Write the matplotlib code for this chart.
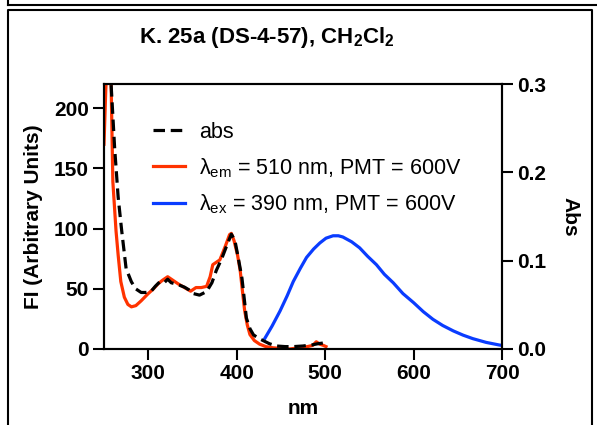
import matplotlib
matplotlib.use("Agg")
import matplotlib.pyplot as plt
from matplotlib.lines import Line2D

plt.rcParams["font.family"] = ["Liberation Sans", "DejaVu Sans"]
plt.rcParams["mathtext.fontset"] = "custom"
plt.rcParams["mathtext.rm"] = "Liberation Sans"
plt.rcParams["mathtext.bf"] = "Liberation Sans:bold"

# absorbance (right axis)
abs_nm = [250, 255, 258, 262, 266, 270, 275, 281, 286, 292, 297, 303, 308, 313,
          318, 322, 326, 330, 336, 341, 346, 350, 358, 366, 372, 377, 383, 388,
          394, 398, 402, 406, 411, 415, 419, 425, 430, 437, 445, 455, 464, 475,
          486, 492, 498, 500]
abs_val = [0.45, 0.36, 0.30, 0.228, 0.172, 0.134, 0.091, 0.076, 0.068, 0.064,
           0.064, 0.065, 0.071, 0.076, 0.075, 0.079, 0.075, 0.074, 0.072, 0.070,
           0.067, 0.063, 0.061, 0.065, 0.075, 0.089, 0.102, 0.115, 0.130, 0.123,
           0.102, 0.080, 0.035, 0.023, 0.016, 0.012, 0.0095, 0.006, 0.0034,
           0.0027, 0.0027, 0.0034, 0.0048, 0.006, 0.0068, 0.006]

# excitation spectrum, lambda_em = 510 nm
em_nm = [250, 252, 253, 256, 258, 260, 263.6, 266, 269, 273, 277, 281, 286, 292,
         300, 306, 311, 316, 322, 328, 334, 341, 348, 354, 360, 366, 370, 373,
         377, 381, 387, 392, 394, 397, 401, 404, 407, 409, 412, 415, 420, 426,
         433, 441, 450, 460, 470, 480, 486, 490, 494, 498, 501]
em_fi = [170, 215, 230, 240, 222, 139, 98, 78, 56, 43, 37, 35, 36, 40, 46, 50,
         54, 57, 60, 57, 54, 51, 48, 51, 51, 52, 60, 70, 72, 74, 85, 95, 96, 90,
         78, 65, 45, 32, 20, 12, 7, 4, 2, 1, 0.5, 0, 1, 2, 3, 6, 4, 3, 2]

# emission spectrum, lambda_ex = 390 nm
ex_nm = [432, 440, 449, 457, 464, 472, 479, 487, 494, 501, 509, 515, 520, 530,
         539, 548, 558, 567, 577, 588, 600, 611, 622, 633, 645, 656, 667, 682,
         697, 700]
ex_fi = [9, 19, 31.5, 44, 56, 67, 76, 83, 88, 92, 94, 94, 93, 89, 84, 77, 70,
         62, 55, 46, 38.5, 31, 24.6, 19.5, 15, 11.5, 8.6, 5.5, 3.3, 3.0]

fig = plt.figure(figsize=(5.97, 4.25), dpi=100)
ax = fig.add_axes([104 / 597, 1 - 349 / 425, 398 / 597, 265 / 425])
ax2 = ax.twinx()

red = "#ff3300"
blue = "#0a3cff"
l_ex, = ax.plot(ex_nm, ex_fi, color=blue, lw=2.3)
l_em, = ax.plot(em_nm, em_fi, color=red, lw=2.3)
l_abs, = ax2.plot(abs_nm, abs_val, color="black", lw=2.3, ls=(0, (3.6, 1.8)))

ax.set_xlim(250, 700)
ax.set_ylim(0, 220)
ax2.set_ylim(0, 0.3)
ax.set_xticks([300, 400, 500, 600, 700])
ax.set_yticks([0, 50, 100, 150, 200])
ax2.set_yticks([0.0, 0.1, 0.2, 0.3])
ax2.set_yticklabels(["0.0", "0.1", "0.2", "0.3"])

for a in (ax, ax2):
    for s in a.spines.values():
        s.set_linewidth(1.5)
    a.tick_params(direction="out", length=8, width=1.5, labelsize=15, pad=3)
    for lab in a.get_xticklabels() + a.get_yticklabels():
        lab.set_fontweight("bold")

ax.set_xlabel("nm", fontsize=15, fontweight="bold", labelpad=11)
ax.set_ylabel("FI (Arbitrary Units)", fontsize=15, fontweight="bold", labelpad=8)
ax2.set_ylabel("Abs", fontsize=15, fontweight="bold", rotation=270, labelpad=24)

fig.text(267 / 597, 1 - 38 / 425,
         r"K. 25a (DS-4-57), CH$_\mathbf{2}$Cl$_\mathbf{2}$",
         ha="center", va="center", fontsize=16, fontweight="bold")

ax2.legend([l_abs, l_em, l_ex],
           ["abs",
            r"λ$_\mathrm{em}$ = 510 nm, PMT = 600V",
            r"λ$_\mathrm{ex}$ = 390 nm, PMT = 600V"],
           loc="upper left", bbox_to_anchor=(153 / 597, 1 - 122 / 425),
           bbox_transform=fig.transFigure, frameon=False, fontsize=15.5,
           handlelength=1.5, handletextpad=0.65, labelspacing=0.6, borderpad=0,
           borderaxespad=0)

# page frame lines
def frame(xs, ys):
    fig.add_artist(Line2D([x / 597 for x in xs], [1 - y / 425 for y in ys],
                          color="black", lw=1.5, transform=fig.transFigure))

frame([8, 597], [5, 5])
frame([8, 8], [0, 5])
frame([8, 8, 592, 592], [425, 10, 10, 425])

fig.savefig("out.png", dpi=100)
